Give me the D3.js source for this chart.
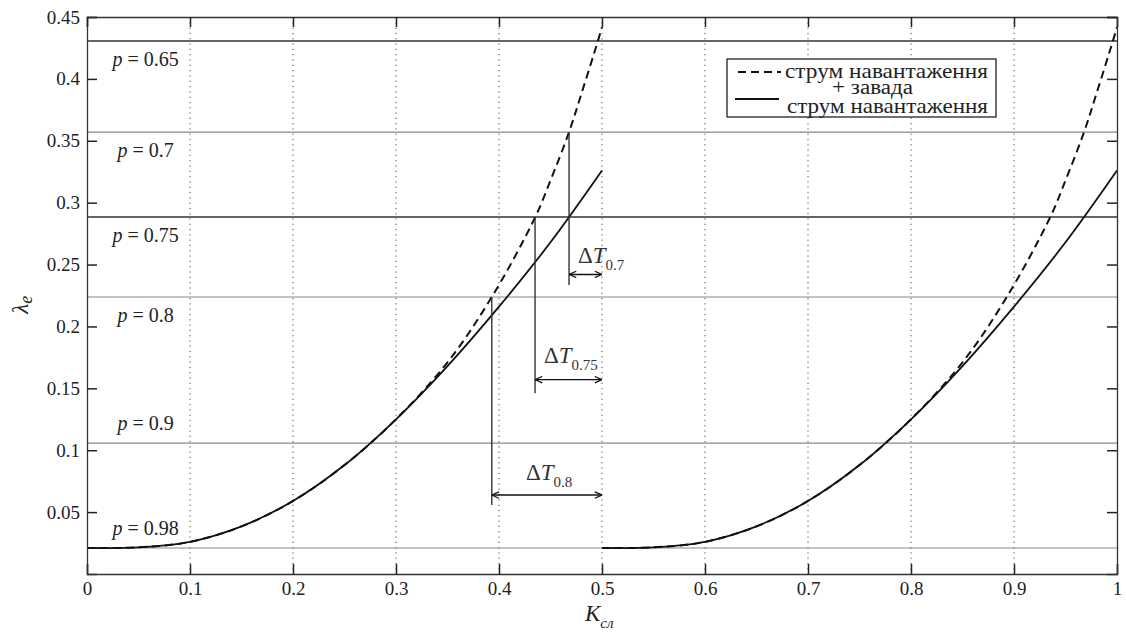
<!DOCTYPE html>
<html>
<head>
<meta charset="utf-8">
<script src="https://cdn.jsdelivr.net/npm/d3@7"></script>
<style>
  html, body { margin: 0; padding: 0; background: #fff; }
  svg { display: block; }
  svg text { font-family: "Liberation Serif", "Times New Roman", Times, "DejaVu Serif", serif; }
</style>
</head>
<body>
<svg id="chart" width="1126" height="632"></svg>
<script>
// ---- data ----
const xTicks = [0, 0.1, 0.2, 0.3, 0.4, 0.5, 0.6, 0.7, 0.8, 0.9, 1];
const xTickLabels = ["0", "0.1", "0.2", "0.3", "0.4", "0.5", "0.6", "0.7", "0.8", "0.9", "1"];
const yTicks = [0.05, 0.1, 0.15, 0.2, 0.25, 0.3, 0.35, 0.4, 0.45];
const yTickLabels = ["0.05", "0.1", "0.15", "0.2", "0.25", "0.3", "0.35", "0.4", "0.45"];

// solid curve: "струм навантаження" (first half, K from 0 to 0.5)
const solidK = [0, 0.05, 0.1, 0.15, 0.2, 0.25, 0.3, 0.35, 0.4, 0.45, 0.5];
const solidL = [0.021, 0.0215, 0.026, 0.0385, 0.059, 0.088, 0.125, 0.168, 0.216, 0.268, 0.326];
// dashed curve: "струм навантаження + завада"
const dashK = [0, 0.05, 0.1, 0.15, 0.2, 0.25, 0.3, 0.35, 0.393, 0.435, 0.45, 0.468, 0.48, 0.496, 0.5];
const dashL = [0.021, 0.0215, 0.026, 0.0385, 0.059, 0.088, 0.125, 0.171, 0.2238, 0.288, 0.318, 0.357, 0.388, 0.4306, 0.442];
// the same pair is repeated on the second half (K from 0.5 to 1)
const halfOffsets = [0, 0.5];

// probability levels
const pLabels = ["0.65", "0.7", "0.75", "0.8", "0.9", "0.98"];
const pLevels = [0.4306, 0.357, 0.2884, 0.2238, 0.1058, 0.021];

// ΔT annotations
const dtNames = ["0.7", "0.75", "0.8"];
const dtStartK = [0.468, 0.435, 0.393];
const dtTopL = [0.357, 0.2884, 0.2238];
const dtBottomL = [0.2335, 0.146, 0.0557];
const dtArrowL = [0.242, 0.157, 0.0638];
const dtEndK = [0.5, 0.5, 0.5];
const dtLabelK = [0.4767, 0.4437, 0.4262];
const dtLabelL = [0.2513, 0.1705, 0.0759];

const legendLabels = ["струм навантаження", "+ завада", "струм навантаження"];

// ---- drawing ----
const svg = d3.select("#chart");
const pL = 87, pR = 1117, pT = 17, pB = 574;
const x = d3.scaleLinear().domain([0, 1]).range([pL, pR]);
const y = d3.scaleLinear().domain([0, 0.45]).range([pB, pT]);

// grid (vertical dotted)
svg.append("g").selectAll("line")
  .data(xTicks.filter(d => d > 0 && d < 1))
  .join("line")
  .attr("x1", d => x(d)).attr("x2", d => x(d))
  .attr("y1", pT).attr("y2", pB)
  .attr("stroke", "#555").attr("stroke-width", 1)
  .attr("stroke-dasharray", "1.3,4");

// p lines
svg.append("g").selectAll("line")
  .data(pLevels)
  .join("line")
  .attr("x1", pL).attr("x2", pR)
  .attr("y1", d => y(d)).attr("y2", d => y(d))
  .attr("stroke", (d, i) => (i === 0 || i === 2) ? "#333" : "#888")
  .attr("stroke-width", (d, i) => (i === 0 || i === 2) ? 1.6 : 1.2);

// p labels
const pText = svg.append("g").selectAll("text")
  .data(pLabels)
  .join("text")
  .attr("x", x(0.057))
  .attr("y", (d, i) => y(pLevels[i]) + (i >= 4 ? -13 : 25))
  .attr("text-anchor", "middle")
  .attr("font-size", 20)
  .attr("fill", "#222");
pText.append("tspan").attr("font-style", "italic").text("p");
pText.append("tspan").text(d => " = " + d);

// curves
const line = d3.line().curve(d3.curveCatmullRom.alpha(0.5));
halfOffsets.forEach(off => {
  svg.append("path")
    .attr("d", line(solidK.map((k, i) => [x(k + off), y(solidL[i])])))
    .attr("fill", "none").attr("stroke", "#111").attr("stroke-width", 1.8);
  svg.append("path")
    .attr("d", line(dashK.map((k, i) => [x(k + off), y(dashL[i])])))
    .attr("fill", "none").attr("stroke", "#111").attr("stroke-width", 2)
    .attr("stroke-dasharray", "8,5");
});

// arrow markers
const defs = svg.append("defs");
defs.append("marker")
  .attr("id", "arr").attr("viewBox", "0 0 10 10")
  .attr("refX", 10).attr("refY", 5)
  .attr("markerWidth", 8).attr("markerHeight", 8)
  .attr("markerUnits", "userSpaceOnUse")
  .attr("orient", "auto-start-reverse")
  .append("path").attr("d", "M1,1 L10,5 L1,9")
  .attr("fill", "none").attr("stroke", "#111").attr("stroke-width", 1.5);

// ΔT annotations
dtNames.forEach((name, i) => {
  svg.append("line")
    .attr("x1", x(dtStartK[i])).attr("x2", x(dtStartK[i]))
    .attr("y1", y(dtTopL[i])).attr("y2", y(dtBottomL[i]))
    .attr("stroke", "#333").attr("stroke-width", 1.4);
  svg.append("line")
    .attr("x1", x(dtStartK[i])).attr("x2", x(dtEndK[i]))
    .attr("y1", y(dtArrowL[i])).attr("y2", y(dtArrowL[i]))
    .attr("stroke", "#111").attr("stroke-width", 1.4)
    .attr("marker-start", "url(#arr)").attr("marker-end", "url(#arr)");
  const t = svg.append("text")
    .attr("x", x(dtLabelK[i])).attr("y", y(dtLabelL[i]))
    .attr("font-size", 23).attr("fill", "#333");
  t.append("tspan").text("Δ");
  t.append("tspan").attr("font-style", "italic").text("T");
  t.append("tspan").attr("font-size", 15).attr("dy", 7).text(name);
});

// axes
const fmtX = d => xTickLabels[xTicks.indexOf(d)];
const fmtY = d => yTickLabels[yTicks.indexOf(d)];
const axB = svg.append("g").attr("transform", `translate(0,${pB})`)
  .call(d3.axisBottom(x).tickValues(xTicks).tickFormat(fmtX).tickSize(-10).tickPadding(8));
const axL = svg.append("g").attr("transform", `translate(${pL},0)`)
  .call(d3.axisLeft(y).tickValues(yTicks).tickFormat(fmtY).tickSize(-10).tickPadding(7));
const axT = svg.append("g").attr("transform", `translate(0,${pT})`)
  .call(d3.axisTop(x).tickValues(xTicks).tickFormat("").tickSize(-10));
const axR = svg.append("g").attr("transform", `translate(${pR},0)`)
  .call(d3.axisRight(y).tickValues(yTicks).tickFormat("").tickSize(-10));
[axB, axL, axT, axR].forEach(g => {
  g.attr("font-family", null);
  g.select(".domain").attr("stroke", "#333").attr("stroke-width", 1.3);
  g.selectAll(".tick line").attr("stroke", "#222").attr("stroke-width", 1.5);
  g.selectAll("text").attr("font-size", 19).attr("fill", "#222");
});

// axis titles
const xt = svg.append("text")
  .attr("x", x(0.5) - 17).attr("y", 621)
  .attr("font-size", 23).attr("fill", "#222");
xt.append("tspan").attr("font-style", "italic").text("K");
xt.append("tspan").attr("font-style", "italic").attr("font-size", 15).attr("dy", 7).text("сл");

const yt = svg.append("text")
  .attr("transform", `translate(28,${y(0.22) + 12}) rotate(-90)`)
  .attr("font-size", 23).attr("fill", "#222");
yt.append("tspan").attr("font-style", "italic").text("λ");
yt.append("tspan").attr("font-style", "italic").attr("font-size", 18).attr("dy", 4).text("e");

// legend
const lg = svg.append("g");
lg.append("rect").attr("x", 727).attr("y", 59).attr("width", 269).attr("height", 58)
  .attr("fill", "#fff").attr("stroke", "#222").attr("stroke-width", 1.3);
lg.append("line").attr("x1", 738).attr("x2", 781).attr("y1", 72).attr("y2", 72)
  .attr("stroke", "#111").attr("stroke-width", 2).attr("stroke-dasharray", "8,5");
lg.append("line").attr("x1", 735).attr("x2", 779).attr("y1", 99).attr("y2", 99)
  .attr("stroke", "#111").attr("stroke-width", 2);
lg.append("text").attr("x", 785).attr("y", 78).attr("font-size", 21).attr("fill", "#222")
  .attr("textLength", 203).attr("lengthAdjust", "spacingAndGlyphs")
  .text(legendLabels[0]);
lg.append("text").attr("x", 832).attr("y", 94).attr("font-size", 20).attr("fill", "#222")
  .attr("textLength", 81).attr("lengthAdjust", "spacingAndGlyphs")
  .text(legendLabels[1]);
lg.append("text").attr("x", 787).attr("y", 113).attr("font-size", 21).attr("fill", "#222")
  .attr("textLength", 201).attr("lengthAdjust", "spacingAndGlyphs")
  .text(legendLabels[2]);
</script>
</body>
</html>
